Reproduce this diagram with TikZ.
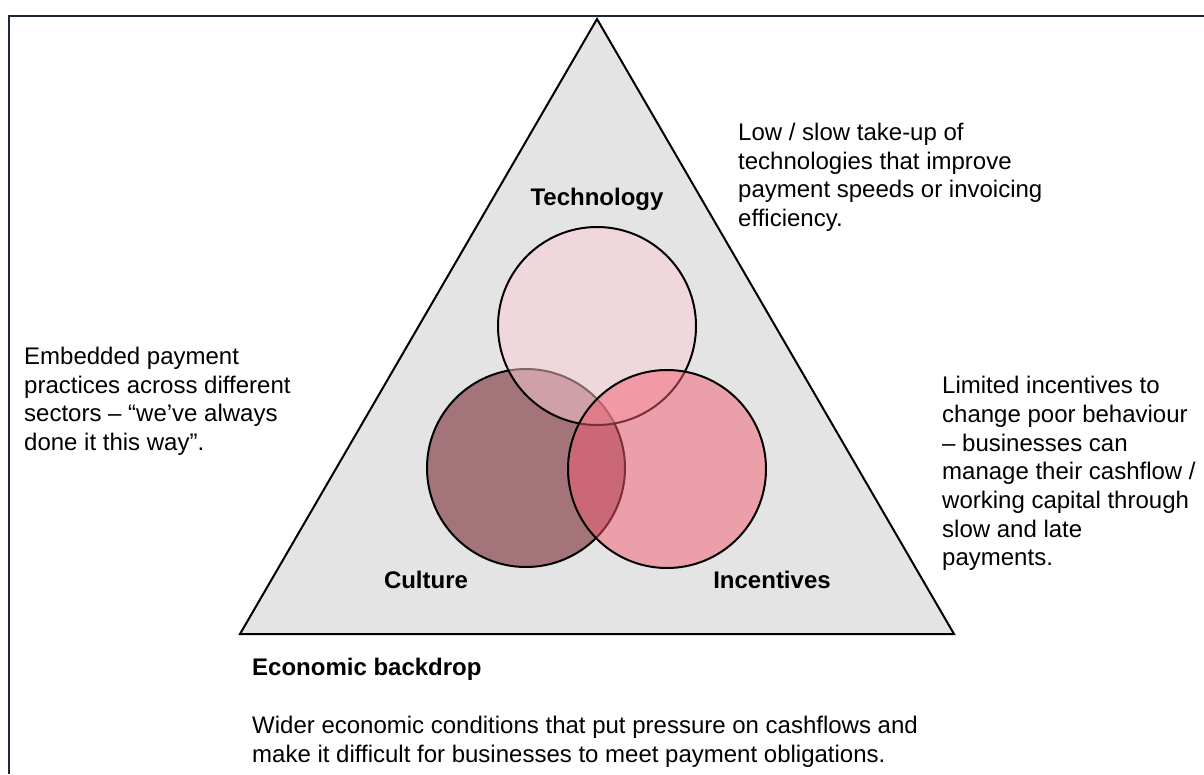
\documentclass[tikz,border=0pt]{standalone}
\usepackage{fontspec}
\setmainfont{Liberation Sans}
\usetikzlibrary{positioning}
\definecolor{frame}{RGB}{31,38,64}
\definecolor{tri}{RGB}{228,228,228}
\definecolor{techc}{RGB}{252,204,212}
\definecolor{cultc}{RGB}{163,117,123}
\definecolor{incc}{RGB}{242,92,112}

\begin{document}
\begin{tikzpicture}[x=1pt,y=-1pt,font=\fontsize{24}{28.7}\selectfont,
  c/.style={draw,circle,line width=2pt,minimum size=198pt,inner sep=0pt},
  lab/.style={font=\fontsize{24}{28.7}\selectfont\bfseries},
  txt/.style={align=left,inner sep=0pt,anchor=north west}]
  \useasboundingbox (0,0) rectangle (1204,774);
  \draw[frame,line width=2.5pt] (9,774) -- (9,16) -- (1204,16);
  % the triangle
  \coordinate (apex) at (597,19);
  \coordinate (bl) at (240,634);
  \coordinate (br) at (954,634);
  \draw[fill=tri,line width=2pt] (apex)--(bl)--(br)--cycle;
  % three overlapping circles
  \node[c,fill=cultc] (cult) at (526,468) {};
  \node[c,fill=techc,fill opacity=0.5] (tech) at (597,326) {};
  \node[c,fill=incc,fill opacity=0.5] (inc) at (667,469) {};
  \node[lab] (techl) at (597,199) {Technology};
  \node[lab] (cultl) at (426,580) {Culture};
  \node[lab] (incl) at (772,580) {Incentives};
  % notes round the triangle
  \node[txt] (techn) at (738,123) {Low / slow take-up of\\technologies that improve\\payment speeds or invoicing\\efficiency.};
  \node[txt] (incn) at (942,376) {Limited incentives to\\change poor behaviour\\– businesses can\\manage their cashflow /\\working capital through\\slow and late\\payments.};
  \node[txt] (cultn) at (24,347) {Embedded payment\\practices across different\\sectors – “we’ve always\\done it this way”.};
  \node[txt,lab] (econ) at (252,658) {Economic backdrop};
  \node[txt] (econn) at (252,716) {Wider economic conditions that put pressure on cashflows and\\make it difficult for businesses to meet payment obligations.};
\end{tikzpicture}
\end{document}
